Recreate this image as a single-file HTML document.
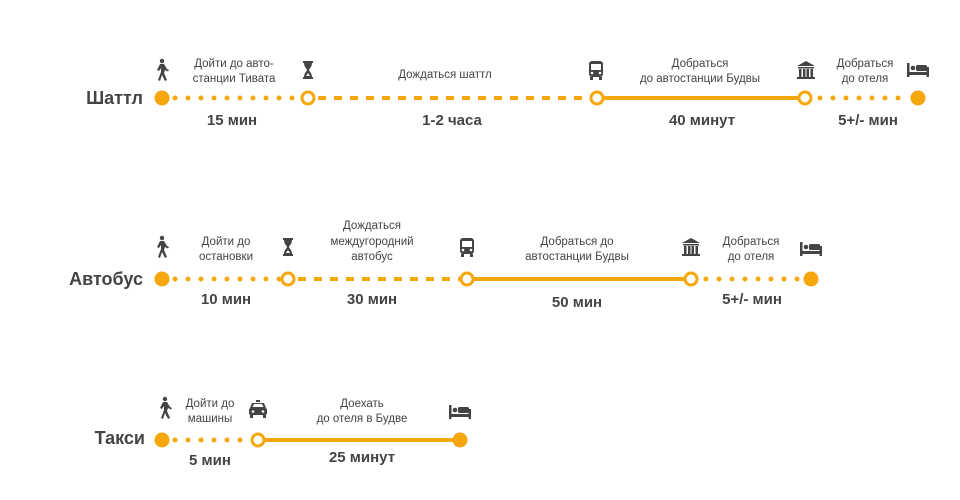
<!DOCTYPE html>
<html><head><meta charset="utf-8"><style>
html,body{margin:0;padding:0;background:#fff;}
svg{display:block}
text{font-family:"Liberation Sans",sans-serif;fill:#444}
.t{font-size:11.5px;text-anchor:middle}
.d{font-size:15px;font-weight:bold;text-anchor:middle}
.n{font-size:18px;font-weight:bold;text-anchor:end}
.dot{stroke:#F5A70D;stroke-width:5;stroke-linecap:round;stroke-dasharray:0 13;fill:none}
.dash{stroke:#F5A70D;stroke-width:4;stroke-dasharray:8 8;fill:none}
.sol{stroke:#F5A70D;stroke-width:4;fill:none}
.f{fill:#F5A70D}
.h{fill:#fff;stroke:#F5A70D;stroke-width:3}
.ic{fill:#444}
</style></head><body>
<svg width="960" height="500" viewBox="0 0 960 500">
<defs>
<g id="walk"><circle cx="2" cy="-9" r="2.2" class="ic"/><path d="M0,-6 L4,-6 L7,-1 L9,0 L8,1.5 L5,0 L4,3 L7,10 L5,11 L2,5 L0,11 L-2,10 L1,2 L1,-2 L-1,1 L-3,0 Z" class="ic"/></g>
<g id="hour"><path d="M-5,-9 H5 V-7 H4 C4,-3 1,-1 1,0 C1,1 4,3 4,7 H5 V9 H-5 V7 H-4 C-4,3 -1,1 -1,0 C-1,-1 -4,-3 -4,-7 H-5 Z" class="ic"/><path d="M-2,6 L0,3 L2,6 Z" fill="#fff"/></g>
<g id="bus"><rect x="-7" y="-9" width="14" height="16" rx="3" class="ic"/><rect x="-5" y="-6" width="10" height="6" fill="#fff"/><circle cx="-4" cy="3" r="1.3" fill="#fff"/><circle cx="4" cy="3" r="1.3" fill="#fff"/><rect x="-6" y="7" width="3" height="3" class="ic"/><rect x="3" y="7" width="3" height="3" class="ic"/></g>
<g id="bank"><path d="M-9,-4 L0,-9 L9,-4 Z" class="ic"/><rect x="-8" y="-3" width="16" height="1.5" class="ic"/><rect x="-7" y="-1" width="2.5" height="8" class="ic"/><rect x="-3" y="-1" width="2.5" height="8" class="ic"/><rect x="0.5" y="-1" width="2.5" height="8" class="ic"/><rect x="4.5" y="-1" width="2.5" height="8" class="ic"/><rect x="-9" y="7" width="18" height="2" class="ic"/></g>
<g id="bed"><rect x="-11" y="-7" width="2.5" height="14" class="ic"/><rect x="-11" y="2" width="22" height="3" class="ic"/><rect x="8.5" y="-3" width="2.5" height="10" class="ic"/><circle cx="-5" cy="-2" r="2.3" class="ic"/><rect x="-2" y="-5" width="11" height="6" rx="1.5" class="ic"/></g>
<g id="taxi"><rect x="-2" y="-10" width="4" height="2" class="ic"/><path d="M-6,-7 H6 L8,-2 H-8 Z" class="ic"/><rect x="-9" y="-2" width="18" height="7" rx="2" class="ic"/><rect x="-8" y="5" width="3" height="3" class="ic"/><rect x="5" y="5" width="3" height="3" class="ic"/><circle cx="-5" cy="1.5" r="1.3" fill="#fff"/><circle cx="5" cy="1.5" r="1.3" fill="#fff"/><path d="M-4,-6 H4 L5.5,-3 H-5.5 Z" fill="#fff"/></g>
</defs>

<!-- Row 1 -->
<text class="n" x="143" y="104">Шаттл</text>
<line class="dot" x1="175" y1="98" x2="300" y2="98"/>
<line class="dash" x1="318" y1="98" x2="590" y2="98"/>
<line class="sol" x1="597" y1="98" x2="805" y2="98"/>
<line class="dot" x1="820" y1="98" x2="908" y2="98"/>
<circle class="f" cx="162" cy="98" r="7.5"/>
<circle class="h" cx="308" cy="98" r="6"/>
<circle class="h" cx="597" cy="98" r="6"/>
<circle class="h" cx="805" cy="98" r="6"/>
<circle class="f" cx="918" cy="98" r="7.5"/>
<use href="#walk" x="160" y="70"/><use href="#hour" x="308" y="70"/><use href="#bus" x="596" y="70"/><use href="#bank" x="806" y="70"/><use href="#bed" x="918" y="70"/>
<text class="t" x="234" y="67">Дойти до авто-</text><text class="t" x="234" y="82">станции Тивата</text>
<text class="t" x="445" y="78">Дождаться шаттл</text>
<text class="t" x="700" y="67">Добраться</text><text class="t" x="700" y="82">до автостанции Будвы</text>
<text class="t" x="865" y="67">Добраться</text><text class="t" x="865" y="82">до отеля</text>
<text class="d" x="232" y="125">15 мин</text><text class="d" x="452" y="125">1-2 часа</text><text class="d" x="702" y="125">40 минут</text><text class="d" x="868" y="125">5+/- мин</text>

<!-- Row 2 -->
<text class="n" x="143" y="285">Автобус</text>
<line class="dot" x1="175" y1="279" x2="280" y2="279"/>
<line class="dash" x1="298" y1="279" x2="460" y2="279"/>
<line class="sol" x1="467" y1="279" x2="691" y2="279"/>
<line class="dot" x1="706" y1="279" x2="801" y2="279"/>
<circle class="f" cx="162" cy="279" r="7.5"/>
<circle class="h" cx="288" cy="279" r="6"/>
<circle class="h" cx="467" cy="279" r="6"/>
<circle class="h" cx="691" cy="279" r="6"/>
<circle class="f" cx="811" cy="279" r="7.5"/>
<use href="#walk" x="160" y="247"/><use href="#hour" x="288" y="247"/><use href="#bus" x="467" y="247"/><use href="#bank" x="691" y="247"/><use href="#bed" x="811" y="249"/>
<text class="t" x="226" y="245">Дойти до</text><text class="t" x="226" y="260">остановки</text>
<text class="t" x="372" y="229">Дождаться</text><text class="t" x="372" y="245">междугородний</text><text class="t" x="372" y="260">автобус</text>
<text class="t" x="577" y="245">Добраться до</text><text class="t" x="577" y="260">автостанции Будвы</text>
<text class="t" x="751" y="245">Добраться</text><text class="t" x="751" y="260">до отеля</text>
<text class="d" x="226" y="304">10 мин</text><text class="d" x="372" y="304">30 мин</text><text class="d" x="577" y="307">50 мин</text><text class="d" x="752" y="304">5+/- мин</text>

<!-- Row 3 -->
<text class="n" x="145" y="444">Такси</text>
<line class="dot" x1="175" y1="440" x2="250" y2="440"/>
<line class="sol" x1="258" y1="440" x2="460" y2="440"/>
<circle class="f" cx="162" cy="440" r="7.5"/>
<circle class="h" cx="258" cy="440" r="6"/>
<circle class="f" cx="460" cy="440" r="7.5"/>
<use href="#walk" x="163" y="408"/><use href="#taxi" x="258" y="410"/><use href="#bed" x="460" y="412"/>
<text class="t" x="210" y="407">Дойти до</text><text class="t" x="210" y="422">машины</text>
<text class="t" x="362" y="407">Доехать</text><text class="t" x="362" y="422">до отеля в Будве</text>
<text class="d" x="210" y="465">5 мин</text><text class="d" x="362" y="462">25 минут</text>
</svg>
</body></html>
